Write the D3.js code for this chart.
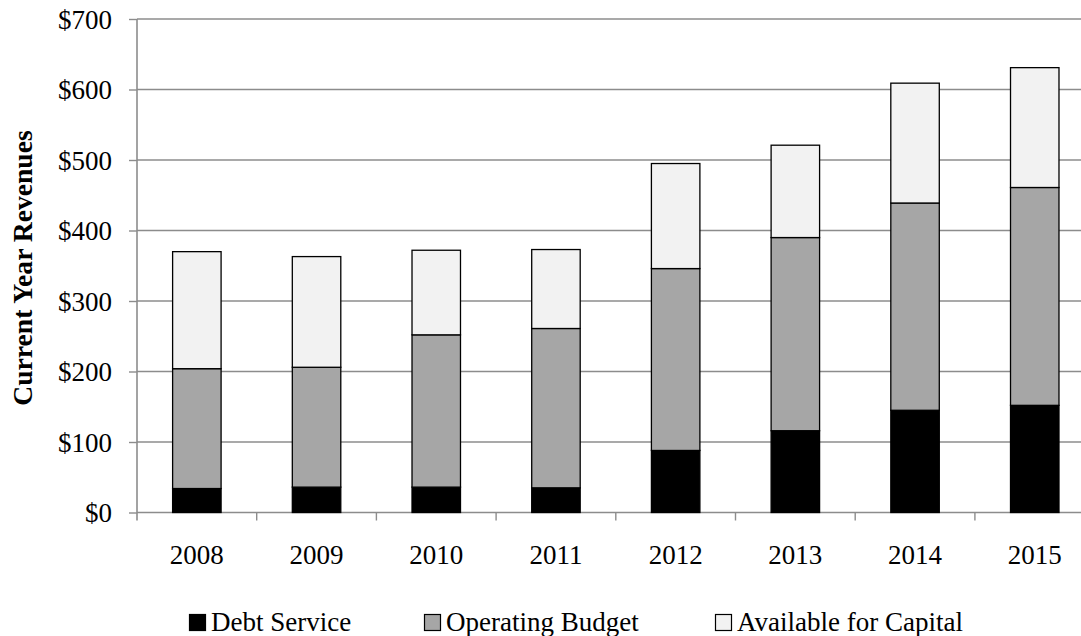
<!DOCTYPE html>
<html>
<head>
<meta charset="utf-8">
<script src="https://cdn.jsdelivr.net/npm/d3@7"></script>
<style>
  html, body { margin: 0; padding: 0; background: #fff; }
  svg { display: block; }
  text { font-family: "Liberation Serif", "Times New Roman", serif; fill: #000; }
</style>
</head>
<body>
<svg id="chart" width="1081" height="636"></svg>
<script>
// Revenue breakdown by fiscal year (millions of dollars)
const years = ["2008", "2009", "2010", "2011", "2012", "2013", "2014", "2015"];
const debtService = [34, 36, 36, 35, 88, 116, 145, 152];
const operatingBudget = [170, 170, 216, 226, 258, 274, 294, 309];
const availableForCapital = [166, 157, 120, 112, 149, 131, 170, 170];
const seriesNames = ["Debt Service", "Operating Budget", "Available for Capital"];
const yTicks = [0, 100, 200, 300, 400, 500, 600, 700];

const colors = ["#000000", "#a6a6a6", "#f2f2f2"];
const fontSize = 27;

const svg = d3.select("#chart");
const margin = { left: 137, top: 19, bottom: 512.5 };
const plotRight = 1094.6;

const rows = years.map((y, i) => ({
  year: y,
  "Debt Service": debtService[i],
  "Operating Budget": operatingBudget[i],
  "Available for Capital": availableForCapital[i]
}));
const stacked = d3.stack().keys(seriesNames)(rows);

const x = d3.scaleBand()
  .domain(years)
  .range([margin.left, plotRight])
  .paddingInner(0.595)
  .paddingOuter(0.2975);

const y = d3.scaleLinear().domain([0, 700]).range([margin.bottom, margin.top]);

// horizontal gridlines
svg.append("g")
  .selectAll("line")
  .data(yTicks.filter(d => d > 0))
  .join("line")
  .attr("x1", margin.left).attr("x2", plotRight)
  .attr("y1", d => y(d)).attr("y2", d => y(d))
  .attr("stroke", "#8c8c8c").attr("stroke-width", 1.4);

// y axis
const yAxis = svg.append("g")
  .attr("transform", `translate(${margin.left},0)`)
  .call(d3.axisLeft(y).tickValues(yTicks).tickSize(8).tickPadding(17)
    .tickFormat(d => "$" + d));
yAxis.select(".domain").remove();
yAxis.selectAll(".tick line").attr("stroke", "#8c8c8c").attr("stroke-width", 1.4);
yAxis.selectAll(".tick text")
  .attr("font-size", fontSize).attr("font-family", "Liberation Serif").attr("dy", "0.34em");
yAxis.append("line")
  .attr("x1", 0).attr("x2", 0).attr("y1", y(700)).attr("y2", margin.bottom + 8)
  .attr("stroke", "#8c8c8c").attr("stroke-width", 1.6);

// x axis baseline and category separators
const xg = svg.append("g");
xg.append("line")
  .attr("x1", margin.left).attr("x2", plotRight)
  .attr("y1", margin.bottom).attr("y2", margin.bottom)
  .attr("stroke", "#8c8c8c").attr("stroke-width", 1.4);
xg.selectAll("line.sep")
  .data(years.slice(1))
  .join("line")
  .attr("class", "sep")
  .attr("x1", d => x(d) - x.step() * x.paddingInner() / 2)
  .attr("x2", d => x(d) - x.step() * x.paddingInner() / 2)
  .attr("y1", margin.bottom).attr("y2", margin.bottom + 8)
  .attr("stroke", "#8c8c8c").attr("stroke-width", 1.4);
xg.selectAll("text")
  .data(years)
  .join("text")
  .attr("x", d => x(d) + x.bandwidth() / 2)
  .attr("y", 564)
  .attr("text-anchor", "middle")
  .attr("font-size", fontSize)
  .text(d => d);

// stacked bars
svg.append("g")
  .selectAll("g")
  .data(stacked)
  .join("g")
  .attr("fill", (d, i) => colors[i])
  .selectAll("rect")
  .data(d => d)
  .join("rect")
  .attr("x", d => x(d.data.year))
  .attr("width", x.bandwidth())
  .attr("y", d => y(d[1]))
  .attr("height", d => y(d[0]) - y(d[1]))
  .attr("stroke", "#000")
  .attr("stroke-width", 1.3);

// y axis title
svg.append("text")
  .attr("transform", `translate(32,268) rotate(-90)`)
  .attr("text-anchor", "middle")
  .attr("font-size", 27.6)
  .attr("font-weight", "bold")
  .text("Current Year Revenues");

// legend
const legendX = [189, 424, 715];
const legend = svg.append("g")
  .selectAll("g")
  .data(seriesNames)
  .join("g")
  .attr("transform", (d, i) => `translate(${legendX[i]},0)`);
legend.append("rect")
  .attr("x", 0.5).attr("y", 614.5)
  .attr("width", 16).attr("height", 16)
  .attr("fill", (d, i) => colors[i])
  .attr("stroke", "#000").attr("stroke-width", 1.2);
legend.append("text")
  .attr("x", 22).attr("y", 630.5)
  .attr("font-size", fontSize)
  .text(d => d);
</script>
</body>
</html>
